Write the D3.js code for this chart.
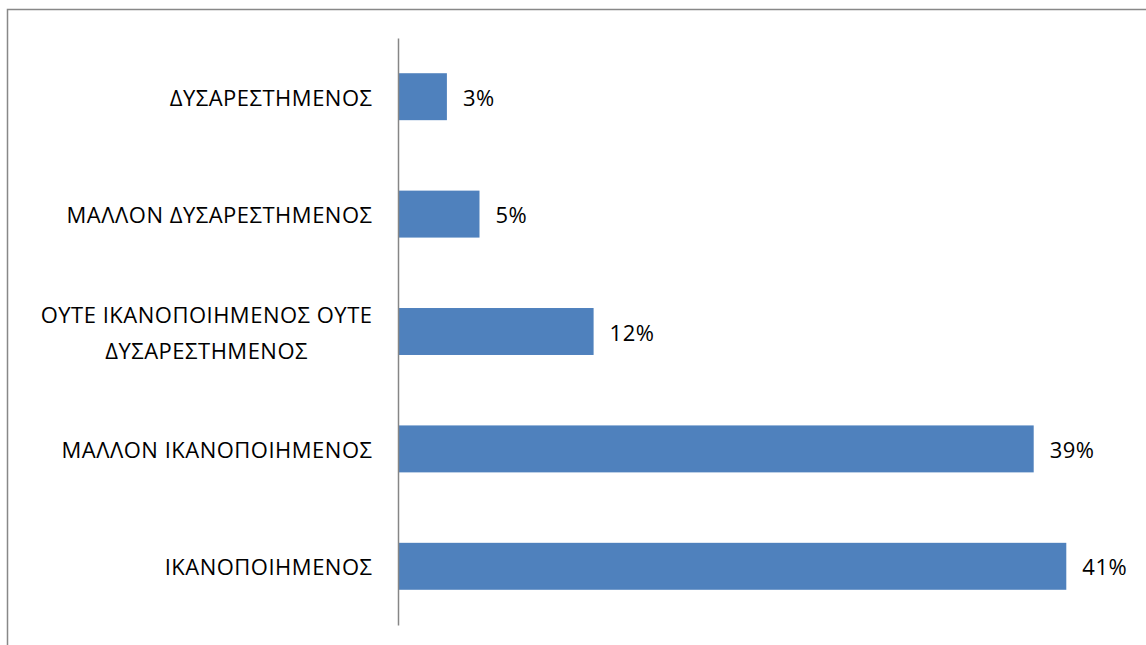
<!DOCTYPE html>
<html>
<head>
<meta charset="utf-8">
<script src="https://cdn.jsdelivr.net/npm/d3@7"></script>
<style>
  html, body { margin: 0; padding: 0; background: #fff; }
  svg { display: block; }
  text { font-family: "Open Sans", "Noto Sans", sans-serif; fill: #000; }
</style>
</head>
<body>
<svg id="chart" width="1146" height="645"></svg>
<script>
// Satisfaction survey responses (percent)
const categories = [
  ["ΔΥΣΑΡΕΣΤΗΜΕΝΟΣ"],
  ["ΜΑΛΛΟΝ ΔΥΣΑΡΕΣΤΗΜΕΝΟΣ"],
  ["ΟΥΤΕ ΙΚΑΝΟΠΟΙΗΜΕΝΟΣ ΟΥΤΕ", "ΔΥΣΑΡΕΣΤΗΜΕΝΟΣ"],
  ["ΜΑΛΛΟΝ ΙΚΑΝΟΠΟΙΗΜΕΝΟΣ"],
  ["ΙΚΑΝΟΠΟΙΗΜΕΝΟΣ"]
];
const values = [3, 5, 12, 39, 41];
const valueLabels = ["3%", "5%", "12%", "39%", "41%"];

const svg = d3.select("#chart");
const W = 1146, H = 645;

// chart frame (left and top edges visible within the window)
svg.append("rect")
  .attr("x", 7.5).attr("y", 9.5)
  .attr("width", W + 20).attr("height", H + 20)
  .attr("fill", "none")
  .attr("stroke", "#888")
  .attr("stroke-width", 1.5);

const plot = { left: 398, top: 38, bottom: 625 };
const keys = categories.map((c, i) => i);

const y = d3.scaleBand()
  .domain(keys)
  .range([plot.top, plot.bottom])
  .paddingInner(0.6)
  .paddingOuter(0.3);

const x = d3.scaleLinear()
  .domain([0, 45])
  .range([plot.left, plot.left + 45 * 16.3]);

// bars
svg.append("g").selectAll("rect")
  .data(values)
  .join("rect")
  .attr("x", x(0))
  .attr("y", (d, i) => y(i))
  .attr("width", d => x(d) - x(0))
  .attr("height", y.bandwidth())
  .attr("fill", "#4F81BD");

// category axis
const yAxis = d3.axisLeft(y).tickSize(0).tickFormat("");
const axisG = svg.append("g")
  .attr("transform", `translate(${plot.left},0)`)
  .call(yAxis);
axisG.select(".domain").attr("stroke", "#868686").attr("stroke-width", 1.5);

// category labels (multi-line labels are centred on their widest line)
const fs = 22;
const ls = 0.5;
const lineH = 36;
const labelG = svg.append("g");
categories.forEach((lines, i) => {
  const cy = y(i) + y.bandwidth() / 2;
  const t = labelG.append("text")
    .attr("font-size", fs)
    .attr("letter-spacing", ls)
    .attr("dominant-baseline", "central");
  const n = lines.length;
  lines.forEach((ln, j) => {
    t.append("tspan")
      .attr("y", cy + (j - (n - 1) / 2) * lineH)
      .text(ln);
  });
  // measure widest line, then position (trailing letter-spacing trimmed)
  const spans = t.selectAll("tspan").nodes();
  const widths = spans.map(s => s.getComputedTextLength() - ls);
  const maxW = d3.max(widths);
  const right = plot.left - 26;
  t.attr("text-anchor", "start");
  if (n === 1) {
    spans[0].setAttribute("x", right - widths[0]);
  } else {
    spans.forEach((s, j) => s.setAttribute("x", right - maxW / 2 - widths[j] / 2));
  }
});

// value labels
svg.append("g").selectAll("text")
  .data(values)
  .join("text")
  .attr("x", d => x(d) + 16)
  .attr("y", (d, i) => y(i) + y.bandwidth() / 2)
  .attr("dominant-baseline", "central")
  .attr("font-size", fs)
  .attr("letter-spacing", ls)
  .text((d, i) => valueLabels[i]);
</script>
</body>
</html>
